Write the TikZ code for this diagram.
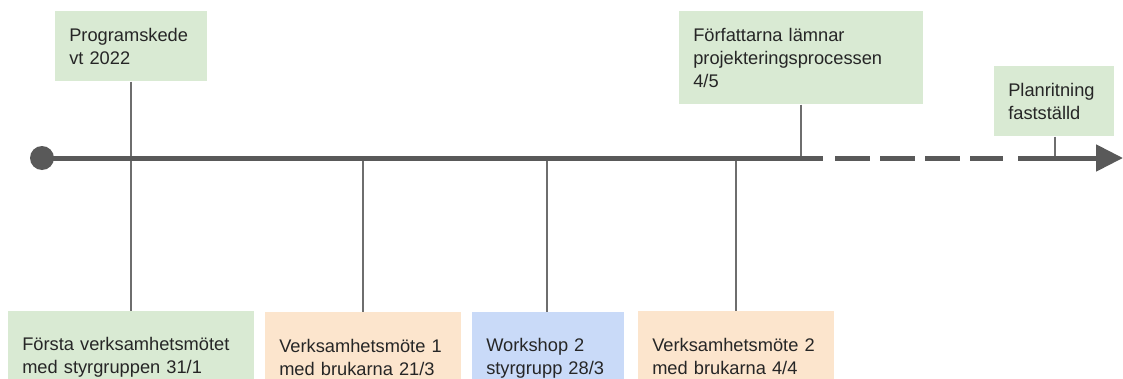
\documentclass[tikz,border=0pt]{standalone}
\usepackage{fontspec}
\setmainfont{Liberation Sans}
\usetikzlibrary{arrows.meta}
\definecolor{boxgreen}{HTML}{D9EAD3}
\definecolor{boxorange}{HTML}{FCE5CD}
\definecolor{boxblue}{HTML}{C9DAF8}
\definecolor{maingray}{HTML}{595959}
\definecolor{tickgray}{HTML}{6E6E6E}
\definecolor{txt}{HTML}{262626}
\tikzset{
  box/.style={anchor=north west, inner xsep=10.5pt, inner ysep=0pt, align=left,
    font=\fontsize{13.7pt}{17.25pt}\selectfont, text=txt},
  mainline/.style={draw=maingray, line width=3.75pt},
  tick/.style={draw=tickgray, line width=1.1pt},
  dot/.style={circle, fill=maingray, minimum size=18pt, inner sep=0pt}
}
\begin{document}
\begin{tikzpicture}[x=0.75pt,y=-0.75pt]
\clip (0,0) rectangle (1123,378);
% boxes
\node[box, fill=boxgreen, text width=93pt, minimum height=52.5pt] (prog) at (55,11) {Programskede\\vt 2022};
\node[box, fill=boxgreen, text width=162pt, minimum height=69.75pt] (forf) at (679,11) {Författarna lämnar\\projekteringsprocessen\\4/5};
\node[box, fill=boxgreen, text width=69pt, minimum height=52.5pt] (plan) at (994,66) {Planritning\\fastställd};
\node[box, fill=boxgreen, text width=163.5pt, minimum height=68.5pt] (forsta) at (8,311) {Första verksamhetsmötet\\med styrgruppen 31/1};
\node[box, fill=boxorange, text width=126pt, minimum height=68.5pt] (v1) at (265,312) {Verksamhetsmöte 1\\med brukarna 21/3};
\node[box, fill=boxblue, text width=93pt, minimum height=68.5pt] (ws) at (472,312) {Workshop 2\\styrgrupp 28/3};
\node[box, fill=boxorange, text width=126pt, minimum height=68.5pt] (v2) at (638,311) {Verksamhetsmöte 2\\med brukarna 4/4};
% points on the time line
\coordinate (t1) at (131,158);
\coordinate (t2) at (363,158);
\coordinate (t3) at (547,158);
\coordinate (t4) at (736,158);
\coordinate (t5) at (801,158);
\coordinate (t6) at (1055,158);
% ticks
\draw[tick] (prog.south -| t1) -- (forsta.north -| t1);
\draw[tick] (t2) -- (v1.north -| t2);
\draw[tick] (t3) -- (ws.north -| t3);
\draw[tick] (t4) -- (v2.north -| t4);
\draw[tick] (forf.south -| t5) -- (t5);
\draw[tick] (plan.south -| t6) -- (t6);
% main line
\node[dot] (start) at (42,158) {};
\coordinate (e1) at (823,158);
\coordinate (d1) at (835,158);
\coordinate (d2) at (1003,158);
\coordinate (s2) at (1018,158);
\coordinate (end) at (1123,158);
\draw[mainline] (start.center) -- (e1);
\draw[mainline, dash pattern=on 26.25pt off 7.5pt] (d1) -- (d2);
\draw[mainline, -{Triangle[length=20.25pt,width=19.5pt]}] (s2) -- (end);
\end{tikzpicture}
\end{document}
